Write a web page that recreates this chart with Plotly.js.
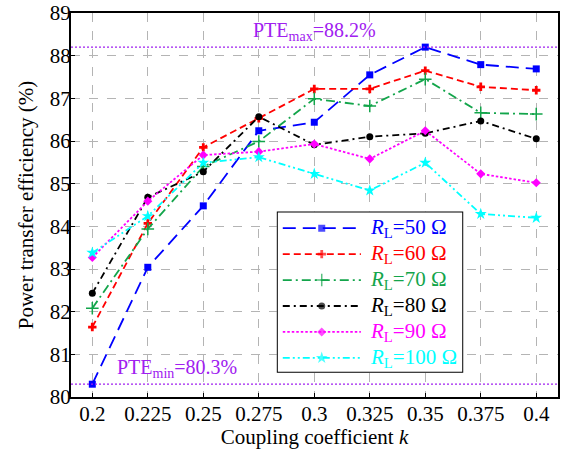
<!DOCTYPE html>
<html>
<head>
<meta charset="utf-8">
<script src="https://cdn.plot.ly/plotly-3.0.1.min.js"></script>
<style>
  html, body { margin: 0; padding: 0; background: #fff; }
  #chart { width: 563px; height: 449px; }
</style>
</head>
<body>
<div id="chart"></div>
<script>
// Coupling coefficient k (x positions) and their tick labels
const kValues = [0.2, 0.225, 0.25, 0.275, 0.3, 0.325, 0.35, 0.375, 0.4];
const kLabels = ['0.2', '0.225', '0.25', '0.275', '0.3', '0.325', '0.35', '0.375', '0.4'];

// Power transfer efficiency (%) for each load resistance
const pteRL50  = [80.3, 83.04, 84.48, 86.24, 86.44, 87.55, 88.2, 87.79, 87.69];
const pteRL60  = [81.64, 84.07, 85.85, 86.53, 87.22, 87.22, 87.65, 87.27, 87.19];
const pteRL70  = [82.08, 83.94, 85.40, 85.99, 86.99, 86.82, 87.45, 86.66, 86.63];
const pteRL80  = [82.43, 84.68, 85.28, 86.57, 85.91, 86.10, 86.18, 86.47, 86.05];
const pteRL90  = [83.27, 84.59, 85.67, 85.75, 85.93, 85.58, 86.24, 85.23, 85.02];
const pteRL100 = [83.38, 84.24, 85.49, 85.62, 85.23, 84.84, 85.49, 84.29, 84.20];

// Load resistances (Ω) shown in the legend
const loadOhms = [50, 60, 70, 80, 90, 100];

// Reference levels
const pteMax = 88.2;
const pteMin = 80.3;

const seriesValues = [pteRL50, pteRL60, pteRL70, pteRL80, pteRL90, pteRL100];

const styles = [
  { color: '#0000ff', dash: '13px,7px',                   symbol: 'square',      size: 7, lw: 0 },
  { color: '#ff0000', dash: '7px,4px',                    symbol: 'cross',       size: 7, lw: 0 },
  { color: '#13a54b', dash: '9px,4px,2px,4px',            symbol: 'cross-thin',  size: 9, lw: 1.5 },
  { color: '#000000', dash: '7px,4px,2px,4px',            symbol: 'circle',      size: 7, lw: 0 },
  { color: '#ff00ff', dash: '2.5px,2px',                  symbol: 'diamond',     size: 7, lw: 0 },
  { color: '#00ffff', dash: '7px,3px,2px,3px,2px,3px',    symbol: 'star',        size: 9, lw: 0 }
];

const serif = 'Liberation Serif, Times New Roman, Times, serif';
const purple = '#a020f0';

const traces = [];

// Data series
seriesValues.forEach((vals, i) => {
  const s = styles[i];
  traces.push({
    type: 'scatter', mode: 'lines+markers',
    x: kValues, y: vals,
    xaxis: 'x', yaxis: 'y',
    line: { color: s.color, width: 1.8, dash: s.dash },
    marker: { color: s.color, symbol: s.symbol, size: s.size,
              line: { color: s.color, width: s.lw } },
    showlegend: false, hoverinfo: 'x+y'
  });
});

// PTE max / min reference lines
[pteMax, pteMin].forEach(v => {
  traces.push({
    type: 'scatter', mode: 'lines',
    x: [0.1904, 0.4098], y: [v, v],
    xaxis: 'x', yaxis: 'y',
    line: { color: purple, width: 1.2, dash: '2px,2px' },
    showlegend: false, hoverinfo: 'skip'
  });
});

// Legend samples, drawn in a small subplot placed over the plot area
const legendRows = loadOhms.map((_, i) => 0.897 - i * 0.161);
const sampleX = [0.032, 0.241, 0.451];
styles.forEach((s, i) => {
  traces.push({
    type: 'scatter', mode: 'lines+markers',
    x: sampleX, y: [legendRows[i], legendRows[i], legendRows[i]],
    xaxis: 'x2', yaxis: 'y2',
    line: { color: s.color, width: 1.8, dash: s.dash },
    marker: { color: s.color, symbol: s.symbol, size: [0, s.size, 0],
              line: { color: s.color, width: s.lw } },
    showlegend: false, hoverinfo: 'skip'
  });
});

const annotations = [
  {
    xref: 'x', yref: 'y', x: 0.3, y: pteMax, yshift: 16,
    text: 'PTE<sub>max</sub>=' + pteMax + '%', showarrow: false,
    font: { family: serif, size: 20, color: purple }
  },
  {
    xref: 'x', yref: 'y', x: 0.238, y: pteMin, yshift: 16,
    text: 'PTE<sub>min</sub>=' + pteMin + '%', showarrow: false,
    font: { family: serif, size: 20, color: purple }
  }
];

loadOhms.forEach((r, i) => {
  annotations.push({
    xref: 'x2', yref: 'y2', x: 0.49, y: legendRows[i], xanchor: 'left',
    text: '<i>R</i><sub>L</sub>=' + r + ' Ω', showarrow: false,
    font: { family: serif, size: 21, color: styles[i].color }
  });
});

const layout = {
  width: 563, height: 449,
  margin: { l: 71, r: 5, t: 13, b: 52 },
  paper_bgcolor: '#ffffff', plot_bgcolor: '#ffffff',
  font: { family: serif, size: 21, color: '#000' },
  showlegend: false,
  xaxis: {
    range: [0.1904, 0.4098],
    tickvals: kValues, ticktext: kLabels,
    showgrid: true, gridcolor: '#b4b4b4', griddash: 'dash', gridwidth: 1,
    zeroline: false,
    showline: true, linecolor: '#000', linewidth: 2, mirror: true,
    ticks: 'inside', ticklen: 4, tickcolor: '#000', tickwidth: 1,
    ticklabelstandoff: -3,
    tickfont: { family: serif, size: 21 },
    title: { text: 'Coupling coefficient <i>k</i>', font: { family: serif, size: 21 }, standoff: 3 },
    automargin: false
  },
  yaxis: {
    range: [80, 89], dtick: 1, tick0: 80,
    showgrid: true, gridcolor: '#b4b4b4', griddash: 'dash', gridwidth: 1,
    zeroline: false,
    showline: true, linecolor: '#000', linewidth: 2, mirror: true,
    ticks: 'inside', ticklen: 4, tickcolor: '#000', tickwidth: 1,
    ticklabelstandoff: -6,
    tickfont: { family: serif, size: 21 },
    title: { text: 'Power transfer efficiency (%)', font: { family: serif, size: 21 }, standoff: 10 },
    automargin: false
  },
  xaxis2: {
    domain: [0.4226, 0.8054], anchor: 'y2', range: [0, 1],
    visible: false, showgrid: false, zeroline: false, fixedrange: true
  },
  yaxis2: {
    domain: [0.0633, 0.4829], anchor: 'x2', range: [0, 1],
    visible: false, showgrid: false, zeroline: false, fixedrange: true
  },
  shapes: [
    {
      type: 'rect', xref: 'x2', yref: 'y2',
      x0: 0, x1: 1, y0: 0, y1: 1, layer: 'between',
      fillcolor: '#ffffff', line: { color: '#000', width: 2 }
    }
  ],
  annotations: annotations
};

Plotly.newPlot('chart', traces, layout, { displayModeBar: false, staticPlot: true });
</script>
</body>
</html>
